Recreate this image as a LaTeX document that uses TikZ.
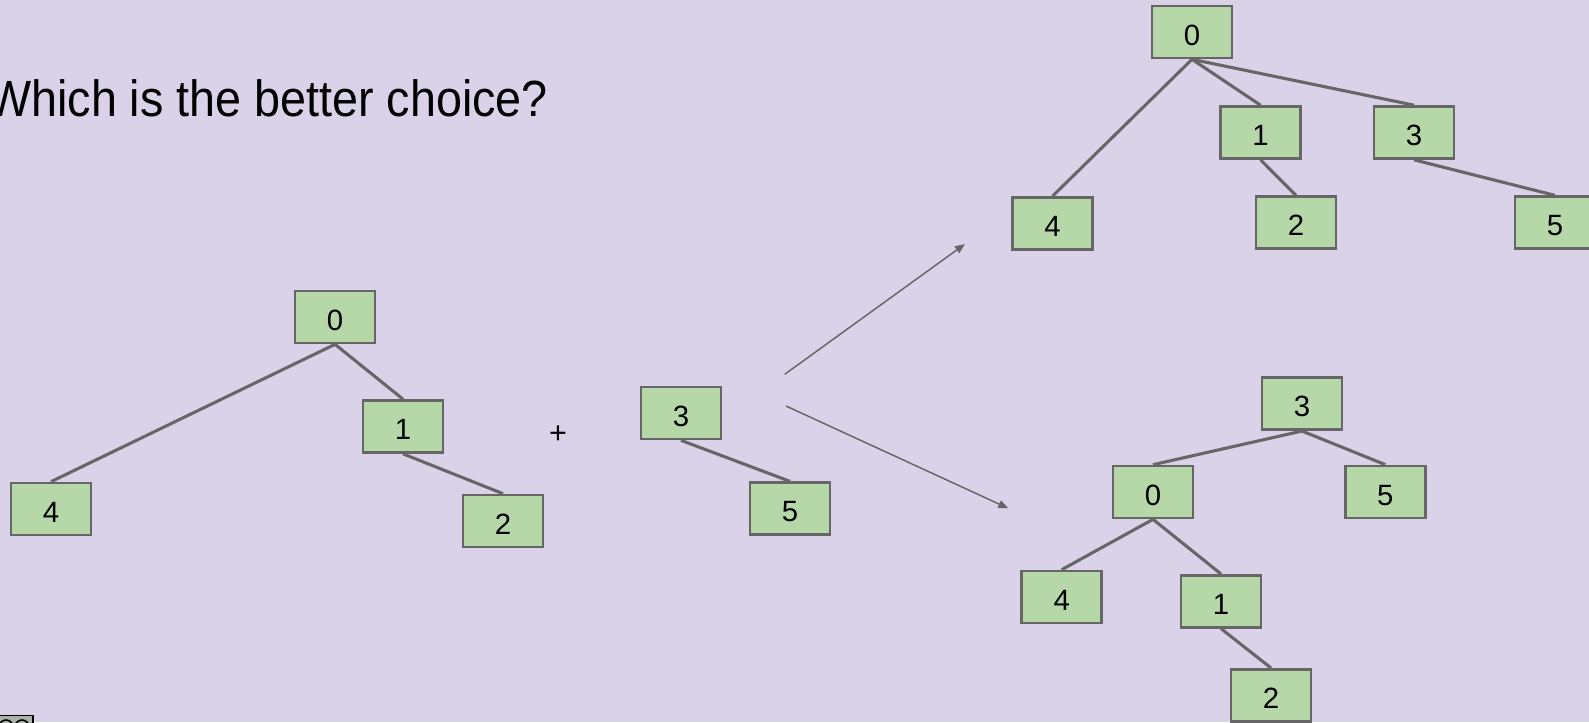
\documentclass[tikz,border=0pt]{standalone}
\usepackage{fontspec}
\setmainfont{Liberation Sans}
\usetikzlibrary{arrows.meta}
\definecolor{bgpurple}{HTML}{D9D2E9}
\definecolor{boxgreen}{HTML}{B6D7A8}
\definecolor{edgegray}{HTML}{666666}
\definecolor{badgegray}{HTML}{AAB2AB}
\begin{document}
\begin{tikzpicture}[x=0.75pt,y=-0.75pt,
  treebox/.style={draw=edgegray, fill=boxgreen, line width=2pt,
    minimum width=60pt, minimum height=39pt, inner sep=0pt,
    text height=19.5pt, text depth=0pt,
    font=\fontsize{22}{26}\selectfont},
  treeedge/.style={draw=edgegray, line width=2.3pt},
  choice/.style={draw=edgegray, line width=1.1pt,
    -{Triangle[length=7.5pt,width=6pt]}}]
% page and background
\fill[bgpurple] (0,0) rectangle (1589,722);
\useasboundingbox (0,0) rectangle (1589,722);
\clip (0,0) rectangle (1589,722);

% title
\node[anchor=base west, inner sep=0pt, font=\fontsize{38.2}{44}\selectfont]
  (title) at (-13,116) {\scalebox{0.917}[1]{Which is the better choice?}};

% licence badge in the corner
\fill[badgegray, draw=black, line width=0.8pt] (-2,715.5) rectangle (33,725);
\draw[black, line width=1.2pt] (6,727) circle (7);
\draw[black, line width=1.2pt] (22,727) circle (7);

% first tree
\node[treebox] (L0) at (335,317) {0};
\node[treebox] (L1) at (403,426.5) {1};
\node[treebox] (L2) at (503,521) {2};
\node[treebox] (L4) at (51,509) {4};
\draw[treeedge] (L0.south) -- (L4.north);
\draw[treeedge] (L0.south) -- (L1.north);
\draw[treeedge] (L1.south) -- (L2.north);

% plus sign
\node[font=\fontsize{23}{26}\selectfont, inner sep=0pt] (plus) at (558,435) {+};

% second tree
\node[treebox] (M3) at (681,413) {3};
\node[treebox] (M5) at (790,508.7) {5};
\draw[treeedge] (M3.south) -- (M5.north);

% the two options
\coordinate (up0) at (784.7,374.3);
\coordinate (up1) at (965,244);
\coordinate (dn0) at (786,406);
\coordinate (dn1) at (1008.3,508.3);
\draw[choice] (up0) -- (up1);
\draw[choice] (dn0) -- (dn1);

% option one: 3 under 0
\node[treebox] (A0) at (1192,32) {0};
\node[treebox] (A1) at (1260.5,132.5) {1};
\node[treebox] (A3) at (1414,132.5) {3};
\node[treebox] (A4) at (1052.5,223.5) {4};
\node[treebox] (A2) at (1296,222.7) {2};
\node[treebox] (A5) at (1555,222.7) {5};
\draw[treeedge] (A0.south) -- (A4.north);
\draw[treeedge] (A0.south) -- (A1.north);
\draw[treeedge] (A0.south) -- (A3.north);
\draw[treeedge] (A1.south) -- (A2.north);
\draw[treeedge] (A3.south) -- (A5.north);

% option two: 0 under 3
\node[treebox] (B3) at (1302,403.7) {3};
\node[treebox] (B0) at (1153,492) {0};
\node[treebox] (B5) at (1385.3,492) {5};
\node[treebox] (B4) at (1061.7,597) {4};
\node[treebox] (B1) at (1221,601.3) {1};
\node[treebox] (B2) at (1271,695.3) {2};
\draw[treeedge] (B3.south) -- (B0.north);
\draw[treeedge] (B3.south) -- (B5.north);
\draw[treeedge] (B0.south) -- (B4.north);
\draw[treeedge] (B0.south) -- (B1.north);
\draw[treeedge] (B1.south) -- (B2.north);
\end{tikzpicture}
\end{document}
